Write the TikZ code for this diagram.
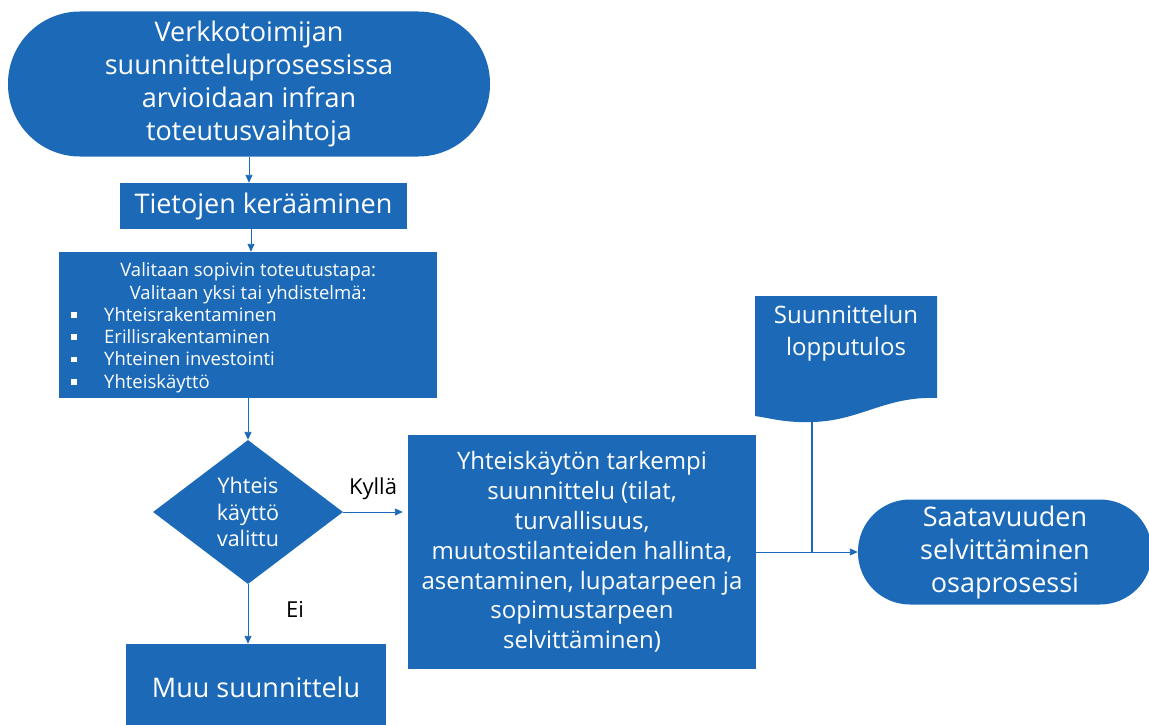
\documentclass[tikz,border=0pt]{standalone}
\usepackage{fontspec}
\setmainfont{Open Sans}
\usetikzlibrary{shapes.geometric,arrows.meta}
\definecolor{fblue}{RGB}{28,106,183}
\begin{document}
\begin{tikzpicture}[x=1pt,y=-1pt,
  box/.style={fill=fblue, text=white, inner sep=0pt, align=center},
  arr/.style={draw=fblue, line width=0.9pt, -{Triangle[length=8pt,width=7pt]}},
  lbl/.style={text=black, inner sep=0pt, font=\fontsize{22}{26}\selectfont},
  f27/.style={font=\fontsize{27}{33}\selectfont},
  f24/.style={font=\fontsize{24}{29.8}\selectfont}]
\useasboundingbox (0,0) rectangle (1149,725);

% start terminator
\node[box, f27, minimum width=482pt, minimum height=145pt, rounded corners=72pt] (start) at (249,84)
  {Verkkotoimijan\\suunnitteluprosessissa\\arvioidaan infran\\toteutusvaihtoja};

% data collection
\node[box, f27, minimum width=287pt, minimum height=46pt] (tk) at (263.5,206) {Tietojen kerääminen};

% choose method
\node[box, minimum width=378pt, minimum height=146pt] (val) at (248,325) {};
\node[text=white, inner sep=0pt, anchor=north west, font=\fontsize{18.5}{22.3}\selectfont] (valt) at (59,262.5)
  {\parbox{378pt}{\centering Valitaan sopivin toteutustapa:\\Valitaan yksi tai yhdistelmä:\par
   \raggedright
   \hspace*{12pt}\makebox[33pt][l]{\rule[0.2em]{5.5pt}{5.5pt}}Yhteisrakentaminen\\
   \hspace*{12pt}\makebox[33pt][l]{\rule[0.2em]{5.5pt}{5.5pt}}Erillisrakentaminen\\
   \hspace*{12pt}\makebox[33pt][l]{\rule[0.2em]{5.5pt}{5.5pt}}Yhteinen investointi\\
   \hspace*{12pt}\makebox[33pt][l]{\rule[0.2em]{5.5pt}{5.5pt}}Yhteiskäyttö}};

% decision
\node[diamond, fill=fblue, text=white, inner sep=0pt, aspect=1.32, minimum width=190pt, minimum height=144pt,
  align=center, font=\fontsize{21.5}{26.5}\selectfont] (dia) at (248,512) {Yhteis\\käyttö\\valittu};

% other planning
\node[box, f27, minimum width=260pt, minimum height=86pt] (muu) at (256,687) {Muu suunnittelu};

% detailed planning
\node[box, f24, minimum width=348pt, minimum height=234pt] (yk) at (582,552)
  {Yhteiskäytön tarkempi\\suunnittelu (tilat,\\turvallisuus,\\muutostilanteiden hallinta,\\asentaminen, lupatarpeen ja\\sopimustarpeen\\selvittäminen)};

% sub-process terminator
\node[box, f27, minimum width=294pt, minimum height=105pt, rounded corners=52pt] (saat) at (1005,552)
  {Saatavuuden\\selvittäminen\\osaprosessi};

% document shape
\fill[fblue] (755,296) -- (937,296) -- (937,398)
  .. controls (885,396) and (860,421) .. (812,422)
  .. controls (785,423) and (770,418) .. (755,416) -- cycle;
\node[text=white, inner sep=0pt, align=center, font=\fontsize{24}{32}\selectfont] (doc) at (846,333) {Suunnittelun\\lopputulos};
\coordinate (docb) at (812,421);

% labels
\node[lbl] (kylla) at (373,489) {Kyllä};
\node[lbl] (ei) at (295,609) {Ei};

% connectors
\draw[arr] (start.south) -- (start.south |- tk.north);
\draw[arr] ([xshift=-12.5pt]tk.south) -- ([xshift=-12.5pt]tk.south |- val.north);
\draw[arr] (val.south) -- (dia.north);
\draw[arr] (dia.east) -- ([xshift=-5pt]dia.east -| yk.west);
\draw[arr] (dia.south) -- (dia.south |- muu.north);
\draw[arr] (yk.east) -- (saat.west);
\draw[fblue, line width=2pt] (docb) -- (docb |- yk.east);
\end{tikzpicture}
\end{document}
